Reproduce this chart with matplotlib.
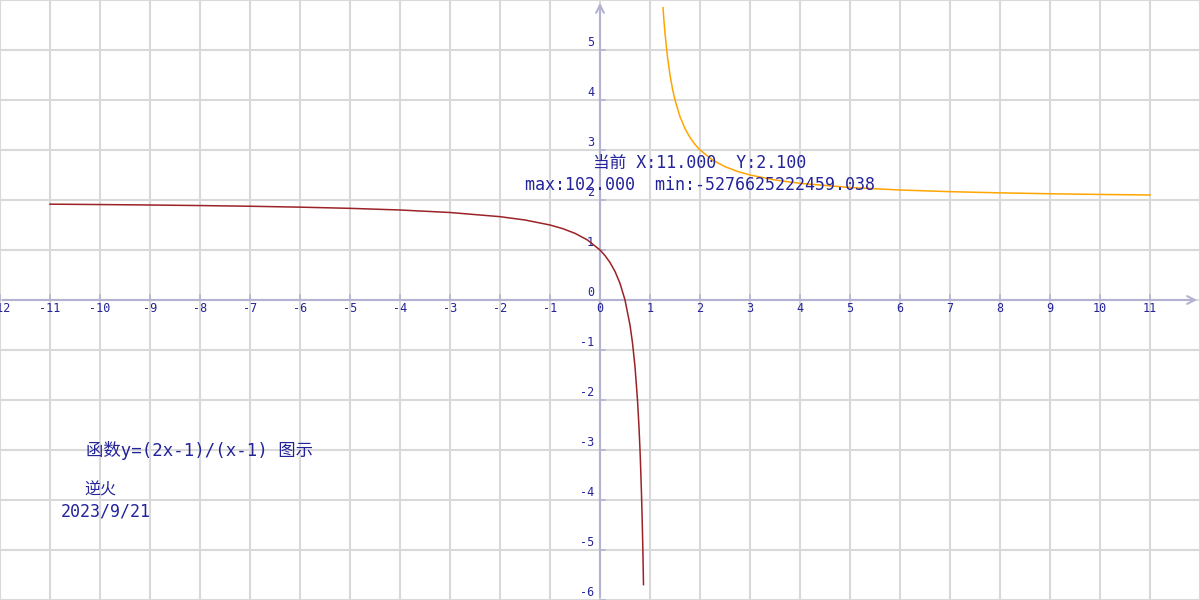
import matplotlib
matplotlib.use("Agg")
import matplotlib.pyplot as plt

# Data (sampled values of y=(2x-1)/(x-1))
left_x = [-11, -10, -9, -8, -7, -6, -5, -4, -3, -2, -1.5, -1, -0.75, -0.5, -0.25, 0,
          0.1, 0.2, 0.3, 0.4, 0.5, 0.6, 0.65, 0.7, 0.75, 0.78, 0.8, 0.81, 0.83, 0.84, 0.85, 0.86, 0.87]
left_y = [1.9167, 1.9091, 1.9, 1.8889, 1.875, 1.8571, 1.8333, 1.8, 1.75, 1.6667, 1.6, 1.5, 1.4286,
          1.3333, 1.2, 1.0, 0.8889, 0.75, 0.5714, 0.3333, 0.0, -0.5, -0.8571, -1.3333, -2.0, -2.5455,
          -3.0, -3.2632, -3.8824, -4.25, -4.6667, -5.1429, -5.6923]
right_x = [1.26, 1.28, 1.3, 1.35, 1.4, 1.45, 1.5, 1.6, 1.7, 1.8, 1.9, 2, 2.25, 2.5, 2.75, 3, 3.5,
           4, 5, 6, 7, 8, 9, 10, 11]
right_y = [5.8462, 5.5714, 5.3333, 4.8571, 4.5, 4.2222, 4.0, 3.6667, 3.4286, 3.25, 3.1111, 3.0, 2.8,
           2.6667, 2.5714, 2.5, 2.4, 2.3333, 2.25, 2.2, 2.1667, 2.1429, 2.125, 2.1111, 2.1]
x_ticks = list(range(-12, 12))
y_ticks = list(range(-6, 6))
info_line = "当前 X:11.000  Y:2.100"
range_line = "max:102.000  min:-5276625222459.038"
title_text = "函数y=(2x-1)/(x-1) 图示"
author_text = "逆火"
date_text = "2023/9/21"

navy = "#23239a"
axis_col = "#b3b3d1"
grid_col = "#d9d9d9"

fig = plt.figure(figsize=(12, 6), dpi=100)
ax = fig.add_axes([0, 0, 1, 1])
ax.set_xlim(-12, 12)
ax.set_ylim(-6, 6)
ax.axis("off")

# grid
for gx in range(-12, 13):
    ax.axvline(gx, color=grid_col, lw=1.5, zorder=0)
for gy in range(-6, 7):
    ax.axhline(gy, color=grid_col, lw=1.5, zorder=0)

# axes with arrows
ax.annotate("", xy=(12, 0), xytext=(-12, 0),
            arrowprops=dict(arrowstyle="->", color=axis_col, lw=1.5, mutation_scale=14), zorder=2)
ax.annotate("", xy=(0, 6), xytext=(0, -6),
            arrowprops=dict(arrowstyle="->", color=axis_col, lw=1.5, mutation_scale=14), zorder=2)

# tick marks and labels
mono = ["DejaVu Sans Mono", "Noto Sans CJK SC"]
for t in x_ticks:
    ax.plot([t, t], [0, 0.1], color=axis_col, lw=1.2, zorder=2)
    ax.text(t, -0.16, str(t), ha="center", va="center", fontsize=8.5, color=navy,
            family=mono, clip_on=True)
for t in y_ticks:
    ax.plot([0, 0.1], [t, t], color=axis_col, lw=1.2, zorder=2)
    ax.text(-0.12, t + 0.14, str(t), ha="right", va="center", fontsize=8.5, color=navy,
            family=mono, clip_on=True)

# curves
ax.plot(left_x, left_y, color="#9b2226", lw=1.1, zorder=3)
ax.plot(right_x, right_y, color="#ffa500", lw=1.1, zorder=3)

# texts
ax.text(2.0, 2.74, info_line, ha="center", va="center", fontsize=12, color=navy, family=mono, zorder=4)
ax.text(2.0, 2.3, range_line, ha="center", va="center", fontsize=12, color=navy, family=mono, zorder=4)
ax.text(-8.0, -3.0, title_text, ha="center", va="center", fontsize=12.5, color=navy, family=mono)
ax.text(-10.0, -3.8, author_text, ha="center", va="center", fontsize=11.5, color=navy,
        family=["Noto Sans CJK SC", "DejaVu Sans"])
ax.text(-9.88, -4.22, date_text, ha="center", va="center", fontsize=12, color=navy, family=mono)

fig.savefig("out.png", dpi=100)
